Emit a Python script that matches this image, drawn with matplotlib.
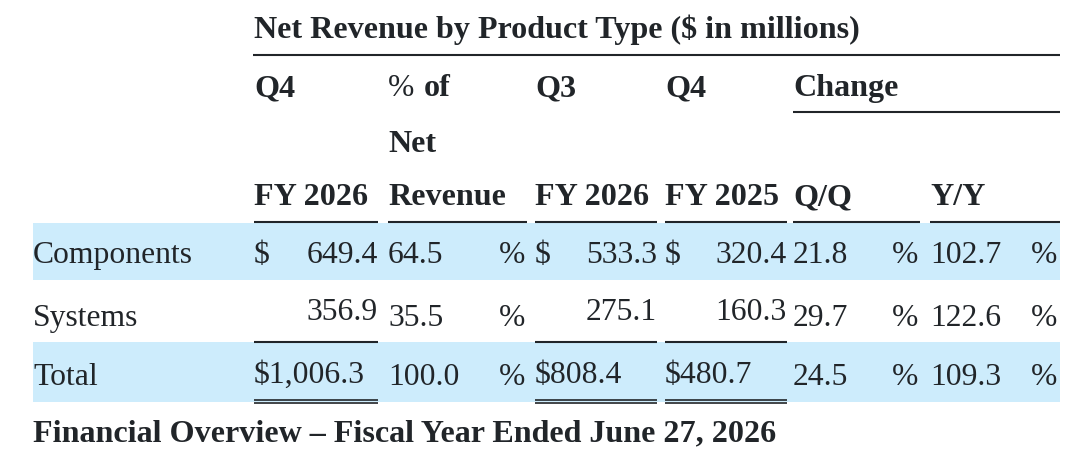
import matplotlib
matplotlib.use("Agg")
import matplotlib.pyplot as plt

# ---- data ----
categories = ["Components", "Systems", "Total"]
q4_fy2026 = [649.4, 356.9, 1006.3]
pct_of_revenue = [64.5, 35.5, 100.0]
q3_fy2026 = [533.3, 275.1, 808.4]
q4_fy2025 = [320.4, 160.3, 480.7]
change_qq = [21.8, 29.7, 24.5]
change_yy = [102.7, 122.6, 109.3]

title = "Net Revenue by Product Type ($ in millions)"
footer = "Financial Overview \u2013 Fiscal Year Ended June 27, 2026"
header_row1 = ["Q4", "% of", "Q3", "Q4", "Change"]
header_row2 = ["", "Net", "", "", ""]
header_row3 = ["FY 2026", "Revenue", "FY 2026", "FY 2025", "Q/Q", "Y/Y"]

# ---- style ----
TXT = "#212529"
BAND = "#cdecfc"
FONT = "Liberation Serif"
FS_BODY = 22.8
FS_BOLD = 23.1

fig = plt.figure(figsize=(10.8, 4.64), dpi=100)
ax = fig.add_axes([0, 0, 1, 1])
ax.set_xlim(0, 1080)
ax.set_ylim(464, 0)
ax.axis("off")

# column layout (left, right) in pixels
cols = [(254, 378), (388, 527), (535, 657), (665, 787), (793, 920), (930, 1060)]
label_x = 33
row_base = [263, 326, 385]      # baseline for labels / left-aligned values
num_base = [263, 320, 383]      # baseline for right-aligned amounts
bands = [(224, 281), (343, 403)]

# bands
for (y0, y1) in bands:
    ax.axhspan(y0, y1, xmin=label_x / 1080, xmax=1060 / 1080, color=BAND, lw=0, zorder=0)

def t(x, y, s, ha="left", bold=False, va="baseline"):
    return ax.text(x, y, s, ha=ha, va=va, color=TXT, fontfamily=FONT,
                   fontsize=FS_BOLD if bold else FS_BODY,
                   fontweight="bold" if bold else "normal", zorder=3)

def rule(y, a, b, lw=1.5):
    ax.hlines(y, a, b, color=TXT, lw=lw, snap=True, zorder=2)

# title and lines
t(254, 38, title, bold=True)
rule(55.5, 253, 1060)

# header rows
hx = [c[0] for c in cols]
for i, s in enumerate(header_row1):
    if s == "% of":
        p = t(hx[i], 96, "%", bold=False)
        fig.canvas.draw()
        bb = p.get_window_extent(renderer=fig.canvas.get_renderer())
        xr = ax.transData.inverted().transform((bb.x1, bb.y0))[0]
        t(xr + 9, 96, "of", bold=True)
    else:
        t(hx[i], 96, s, bold=True)
rule(113.3, 793, 1060)
for i, s in enumerate(header_row2):
    if s:
        t(hx[i], 152, s, bold=True)
for i, s in enumerate(header_row3):
    t(hx[i], 205, s, bold=True)
for (a, b) in cols:
    rule(223, a, b)

# body
def money(v):
    return f"{v:,.1f}"

for r, name in enumerate(categories):
    yb = row_base[r]
    yn = num_base[r]
    t(label_x, yb, name)
    is_total = name == "Total"
    first = r == 0
    amount_cols = [(0, q4_fy2026[r]), (2, q3_fy2026[r]), (3, q4_fy2025[r])]
    for ci, v in amount_cols:
        a, b = cols[ci]
        if is_total:
            t(a, yn, "$" + money(v))
        else:
            if first:
                t(a, yn, "$")
            t(b, yn, money(v), ha="right")
    for ci, v, pr in [(1, pct_of_revenue[r], 525), (4, change_qq[r], 918), (5, change_yy[r], 1057)]:
        a, b = cols[ci]
        t(a, yb, f"{v:.1f}")
        t(pr, yb, "%", ha="right")

# subtotal / total rules
for ci in (0, 2, 3):
    a, b = cols[ci]
    rule(343, a, b)
    rule(400.5, a, b, lw=1.2)
    rule(403.5, a, b, lw=1.2)

t(label_x, 441.5, footer, bold=True)

fig.savefig("out.png", dpi=100)
